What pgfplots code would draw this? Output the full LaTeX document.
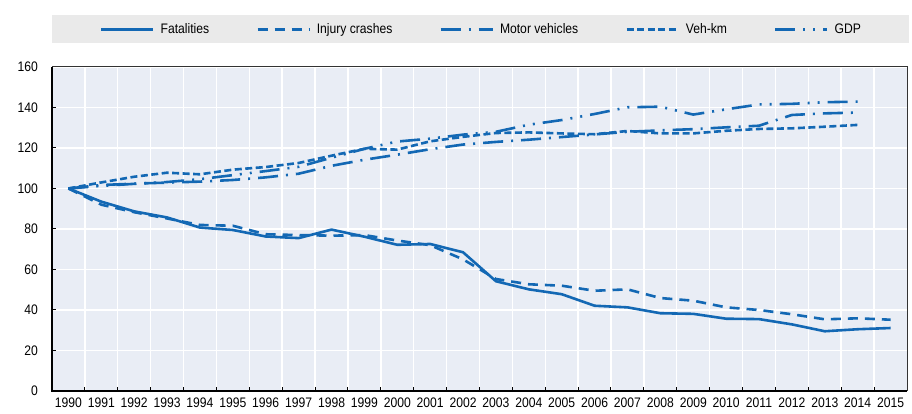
\documentclass[border=0pt]{standalone}
\usepackage{fontspec}
\setmainfont[FakeStretch=0.88]{Liberation Sans}
\usepackage{pgfplots}
\usepackage{pgfplotstable}
\pgfplotsset{compat=1.18}
\definecolor{oblue}{HTML}{1368B4}
\definecolor{bgblue}{HTML}{E9EDF5}
\definecolor{leggray}{HTML}{EAEAEA}
\definecolor{boxgray}{HTML}{333333}
\newcommand\fs{\fontsize{13.8}{16}\selectfont}

\pgfplotstableread{
year fat inj
1990 100 100
1991 93.5 92
1992 88.7 88.3
1993 85.7 85.2
1994 80.7 82
1995 79.5 81.6
1996 76.3 77.4
1997 75.5 77
1998 79.7 76.7
1999 76.2 77
2000 72.2 74.3
2001 72.6 72
2002 68.5 65
2003 54.2 55.3
2004 50.2 52.7
2005 47.8 52
2006 42.1 49.5
2007 41.3 50.2
2008 38.4 45.9
2009 38.1 44.6
2010 35.7 41.3
2011 35.5 40
2012 32.9 37.9
2013 29.5 35.4
2014 30.5 35.9
2015 31.1 35.2
}\tabA

\pgfplotstableread{
year mv vkm gdp
1990 100 100 100
1991 101.7 103 101.3
1992 102.4 105.8 102.3
1993 102.9 107.8 103.2
1994 103.4 107 104.6
1995 104.2 109.3 106.6
1996 105.5 110.6 108.6
1997 107.3 112.6 110.7
1998 111.2 116.2 115.2
1999 114.2 119.6 119.6
2000 116.7 119.2 123.2
2001 119.4 123.3 124.6
2002 121.7 125.5 126.6
2003 123 127.4 128
2004 124.1 127.7 131.5
2005 125.4 127.2 133.8
2006 126.7 126.8 136.8
2007 128 128.4 140.1
2008 128.7 127.2 140.4
2009 129.3 127.2 136.5
2010 130.2 128.5 139.1
2011 131 129.4 141.5
2012 136.3 129.7 141.8
2013 137.1 130.5 142.6
2014 137.5 131.4 142.9
}\tabB

\begin{document}
\begin{tikzpicture}[x=1pt,y=1pt]
\begin{axis}[
  at={(52pt,23pt)}, anchor=south west,
  scale only axis, width=855pt, height=324pt,
  xmin=1989.5, xmax=2015.5, ymin=0, ymax=160,
  xtick={1990,1991,...,2015},
  minor xtick={1990.5,1991.5,...,2014.5},
  ytick={0,20,...,160},
  major x tick style={draw=none},
  tick pos=left, tick align=inside,
  major tick length=4pt, minor tick length=4pt,
  tick style={black, line width=1pt},
  xminorgrids=true, ymajorgrids=true,
  grid style={white, line width=1.4pt},
  minor grid style={white, line width=1.4pt},
  axis background/.style={fill=bgblue},
  axis line style={boxgray, line width=1pt},
  /pgf/number format/assume math mode=true,
  tick label style={font=\fs, black},
  xticklabel style={/pgf/number format/1000 sep={}, anchor=north, inner sep=0pt, yshift=-7pt},
  yticklabel style={anchor=east, inner sep=0pt, xshift=-14pt},
  legend columns=5,
  legend style={at={(0.5,1)}, anchor=south, yshift=24pt, xshift=1pt,
    draw=none, fill=leggray, font=\fs,
    inner xsep=48pt, inner ysep=8pt,
    nodes={inner sep=0pt, anchor=base west},
    /tikz/every odd column/.append style={column sep=6pt},
    /tikz/every even column/.append style={column sep=47pt}},
  legend image code/.code={\draw[#1] (0pt,4pt) -- (52pt,4pt);},
  every axis plot/.append style={oblue, line width=2.6pt},
  after end axis/.code={
    \draw[black, line width=2pt] (rel axis cs:0,1) -- (rel axis cs:0,0) -- (rel axis cs:1,0);
  },
]
\addplot[oblue, line width=2.6pt, line join=round] table[x=year, y=fat] {\tabA};
\addlegendentry{Fatalities}
\addplot[oblue, line width=2.6pt, dash pattern=on 10pt off 7pt] table[x=year, y=inj] {\tabA};
\addlegendentry{Injury crashes}
\addplot[oblue, line width=2.6pt, dash pattern=on 20pt off 8pt on 2pt off 8pt] table[x=year, y=mv] {\tabB};
\addlegendentry{Motor vehicles}
\addplot[oblue, line width=2.6pt, dash pattern=on 7pt off 3.5pt] table[x=year, y=vkm] {\tabB};
\addlegendentry{Veh-km}
\addplot[oblue, line width=2.6pt, dash pattern=on 20pt off 8pt on 2pt off 8pt on 2pt off 8pt] table[x=year, y=gdp] {\tabB};
\addlegendentry{GDP}
\end{axis}
\pgfresetboundingbox
\useasboundingbox (0,0) rectangle (912,414);
\end{tikzpicture}
\end{document}
